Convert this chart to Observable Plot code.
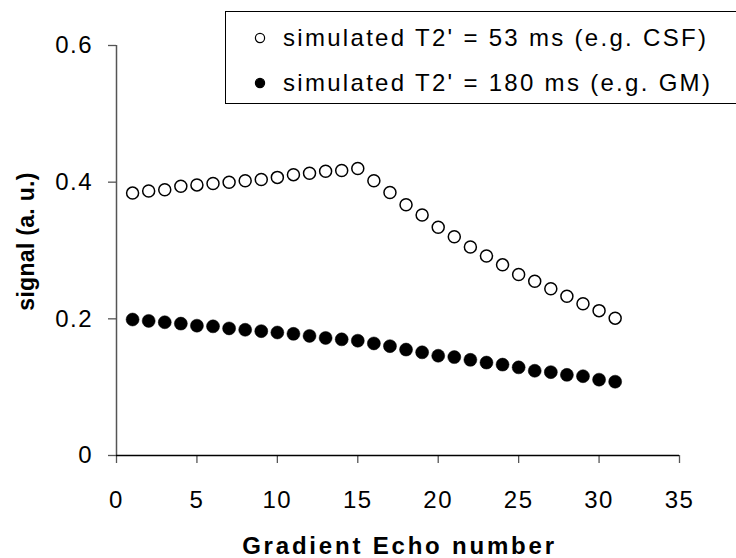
<!DOCTYPE html>
<html>
<head>
<meta charset="utf-8">
<script src="https://cdn.jsdelivr.net/npm/d3@7"></script>
<script src="https://cdn.jsdelivr.net/npm/@observablehq/plot@0.6"></script>
<style>
  html, body { margin: 0; padding: 0; background: #fff; overflow: hidden; }
  #wrap { position: relative; width: 736px; height: 558px; font-family: "Liberation Sans", Arial, sans-serif; }
  #legend { position: absolute; left: 225px; top: 11px; width: 600px; height: 93px; border: 1px solid #000; background: #fff; box-sizing: border-box; }
  .row { position: absolute; left: 0; height: 30px; display: flex; align-items: center; font-size: 24px; letter-spacing: 2.3px; color: #000; white-space: nowrap; }
</style>
</head>
<body>
<div id="wrap"></div>
<script>
const echoNumbers = d3.range(1, 32);
const csfSignal = [0.384, 0.387, 0.389, 0.394, 0.396, 0.398, 0.400, 0.402, 0.404, 0.407, 0.411, 0.413, 0.416, 0.417, 0.420,
  0.402, 0.385, 0.367, 0.352, 0.334, 0.320, 0.305, 0.292, 0.279, 0.265, 0.255, 0.244, 0.233, 0.222, 0.212, 0.201];
const gmSignal = [0.199, 0.197, 0.195, 0.193, 0.190, 0.189, 0.186, 0.184, 0.182, 0.180, 0.178, 0.175, 0.172, 0.170, 0.168,
  0.164, 0.160, 0.155, 0.151, 0.146, 0.144, 0.140, 0.136, 0.133, 0.129, 0.124, 0.122, 0.118, 0.116, 0.111, 0.108];
const xTicks = [0, 5, 10, 15, 20, 25, 30, 35];
const yTicks = [0, 0.2, 0.4, 0.6];
const yTickLabels = ["0", "0.2", "0.4", "0.6"];
const legendLabels = ["simulated T2' = 53 ms (e.g. CSF)", "simulated T2' = 180 ms (e.g. GM)"];
const xTitle = "Gradient Echo number";
const yTitle = "signal (a. u.)";

const csf = echoNumbers.map((n, i) => ({n, v: csfSignal[i]}));
const gm = echoNumbers.map((n, i) => ({n, v: gmSignal[i]}));

const chart = Plot.plot({
  width: 736,
  height: 558,
  marginLeft: 116,
  marginRight: 57,
  marginTop: 45,
  marginBottom: 103,
  style: {fontFamily: "'Liberation Sans', Arial, sans-serif", fontSize: "24px", color: "#000", background: "#fff", letterSpacing: "1.5px"},
  x: {domain: [0, 35]},
  y: {domain: [0, 0.6]},
  marks: [
    Plot.axisX({ticks: xTicks, tickSize: 8, tickPadding: 27, stroke: "#555", strokeWidth: 1.3, label: null, fill: "#000"}),
    Plot.axisY({ticks: yTicks, tickSize: 8, tickPadding: 15.5, stroke: "#555", strokeWidth: 1.3, label: null, fill: "#000",
      tickFormat: d => yTickLabels[yTicks.indexOf(d)]}),
    Plot.ruleX([0], {y1: 0, y2: 0.6, stroke: "#555", strokeWidth: 1.5}),
    Plot.ruleY([0], {x1: 0, x2: 35, stroke: "#000", strokeWidth: 1.5}),
    Plot.dot(gm, {x: "n", y: "v", r: 6.5, fill: "#000", stroke: "#000", strokeWidth: 0.5}),
    Plot.dot(csf, {x: "n", y: "v", r: 6, fill: "#fff", stroke: "#000", strokeWidth: 1.5}),
    Plot.text([xTitle], {frameAnchor: "bottom", dy: 91, dx: 1.5, text: d => d, fontSize: 24, fontWeight: "bold", fill: "#000",
      lineAnchor: "middle", textAnchor: "middle"}),
    Plot.text([yTitle], {frameAnchor: "left", dx: -90, dy: -9, rotate: -90, text: d => d, fontSize: 23, fontWeight: "bold",
      fill: "#000", lineAnchor: "middle", textAnchor: "middle"})
  ]
});
d3.select(chart).selectAll("text").each(function() {
  const t = this.textContent;
  if (t === xTitle) this.style.letterSpacing = "2.8px";
  else if (t === yTitle) this.style.letterSpacing = "0.3px";
});
const wrap = document.getElementById("wrap");
wrap.appendChild(chart);

const legend = document.createElement("div");
legend.id = "legend";
const legendStyles = [{fill: "#fff", stroke: "#000"}, {fill: "#000", stroke: "#000"}];
legendLabels.forEach((lab, i) => {
  const row = document.createElement("div");
  row.className = "row";
  row.style.top = (11 + i * 45) + "px";
  row.style.left = "28px";
  const svg = d3.create("svg").attr("width", 22).attr("height", 14).style("margin-right", "7px");
  svg.append("circle").attr("cx", 6).attr("cy", 7).attr("r", 4.6)
    .attr("fill", legendStyles[i].fill).attr("stroke", legendStyles[i].stroke).attr("stroke-width", 1.2);
  row.appendChild(svg.node());
  const span = document.createElement("span");
  span.textContent = lab;
  row.appendChild(span);
  legend.appendChild(row);
});
wrap.appendChild(legend);
</script>
</body>
</html>
